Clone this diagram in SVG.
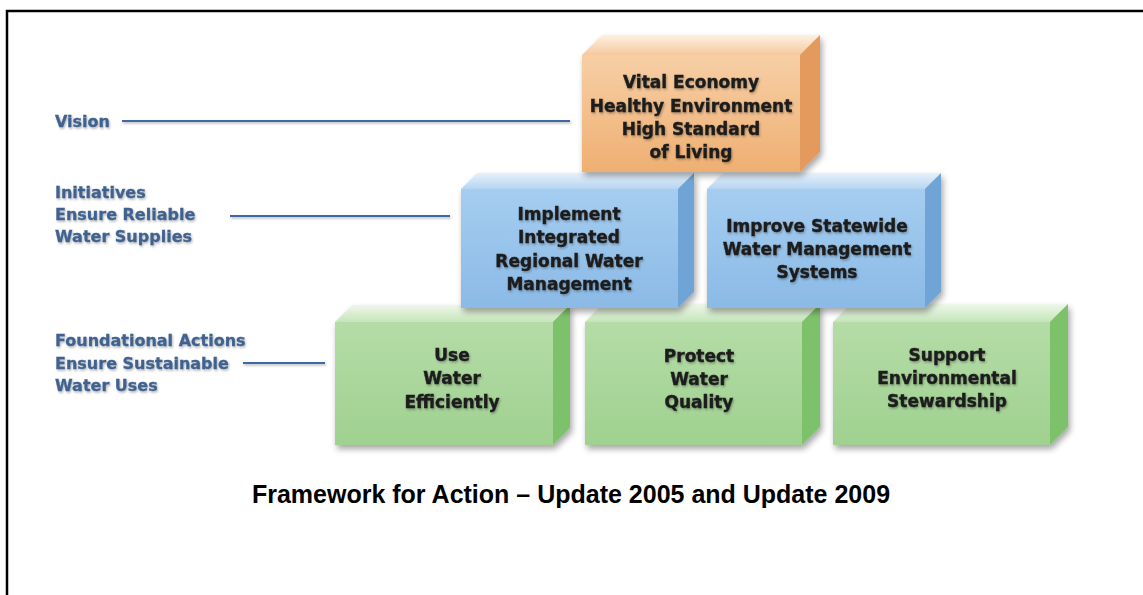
<svg xmlns="http://www.w3.org/2000/svg" width="1143" height="595" viewBox="0 0 1143 595">
<defs>
<linearGradient id="gOF" x1="0" y1="0" x2="0" y2="1"><stop offset="0" stop-color="#f7cfa6"/><stop offset="1" stop-color="#efaf72"/></linearGradient>
<linearGradient id="gOT" x1="0" y1="0" x2="0" y2="1"><stop offset="0" stop-color="#fdf0e2"/><stop offset="1" stop-color="#f6c99c"/></linearGradient>
<linearGradient id="gBF" x1="0" y1="0" x2="0" y2="1"><stop offset="0" stop-color="#a5cdf0"/><stop offset="1" stop-color="#8bbae6"/></linearGradient>
<linearGradient id="gBT" x1="0" y1="0" x2="0" y2="1"><stop offset="0" stop-color="#e6f1fb"/><stop offset="1" stop-color="#b6d5f1"/></linearGradient>
<linearGradient id="gGF" x1="0" y1="0" x2="0" y2="1"><stop offset="0" stop-color="#b5dca7"/><stop offset="1" stop-color="#9fd190"/></linearGradient>
<linearGradient id="gGT" x1="0" y1="0" x2="0" y2="1"><stop offset="0" stop-color="#eef7ea"/><stop offset="1" stop-color="#c5e5b9"/></linearGradient>
<filter id="sh" x="-10%" y="-10%" width="130%" height="140%"><feDropShadow dx="2" dy="4" stdDeviation="3" flood-color="#000" flood-opacity="0.35"/></filter>
<filter id="tsh" x="-10%" y="-30%" width="120%" height="170%"><feDropShadow dx="1" dy="1.5" stdDeviation="1" flood-color="#000" flood-opacity="0.3"/></filter>
</defs>
<style>
.bt{font-family:"DejaVu Sans",sans-serif;font-weight:bold;font-size:17px;fill:#1c1c1c;stroke:#1c1c1c;stroke-width:0.4;text-anchor:middle}
.lb{font-family:"DejaVu Sans",sans-serif;font-weight:bold;font-size:16px;fill:#41628f;stroke:#41628f;stroke-width:0.3}
.ln{stroke:#3e6ba6;stroke-width:2;fill:none}
.oS{fill:#e39a5b}.bS{fill:#6fa3d6}.gS{fill:#7dc16b}
.title{font-family:"Liberation Sans",Arial,sans-serif;font-weight:bold;font-size:25px;fill:#000;text-anchor:middle}
</style>
<rect width="1143" height="595" fill="#fff"/>
<path d="M7,600 V11 H1150" fill="none" stroke="#000" stroke-width="2.5"/>

<g id="connectors" filter="url(#tsh)">
<line class="ln" x1="122" y1="121" x2="570" y2="121"/>
<line class="ln" x1="230" y1="216" x2="450" y2="216"/>
<line class="ln" x1="243" y1="363" x2="325" y2="363"/>
</g>

<g id="labels" filter="url(#tsh)">
<text class="lb" x="55" y="127">Vision</text>
<text class="lb" x="55" y="198">Initiatives</text>
<text class="lb" x="55" y="220">Ensure Reliable</text>
<text class="lb" x="55" y="242">Water Supplies</text>
<text class="lb" x="55" y="346">Foundational Actions</text>
<text class="lb" x="55" y="369">Ensure Sustainable</text>
<text class="lb" x="55" y="391">Water Uses</text>
</g>

<g id="green-left">
<g filter="url(#sh)">
<polygon points="335,322 352,305 570,305 553,322" fill="url(#gGT)"/>
<polygon class="gS" points="553,322 570,305 570,428 553,445"/>
<rect x="335" y="322" width="218" height="123" fill="url(#gGF)"/>
</g>
<g filter="url(#tsh)"><text class="bt" x="452" y="361">Use</text><text class="bt" x="452" y="384">Water</text><text class="bt" x="452" y="408">Efficiently</text></g>
</g>

<g id="green-middle">
<g filter="url(#sh)">
<polygon points="585,322 603,304 820,304 802,322" fill="url(#gGT)"/>
<polygon class="gS" points="802,322 820,304 820,427 802,445"/>
<rect x="585" y="322" width="217" height="123" fill="url(#gGF)"/>
</g>
<g filter="url(#tsh)"><text class="bt" x="699" y="362">Protect</text><text class="bt" x="699" y="385">Water</text><text class="bt" x="699" y="408">Quality</text></g>
</g>

<g id="green-right">
<g filter="url(#sh)">
<polygon points="833,322 851,304 1068,304 1050,322" fill="url(#gGT)"/>
<polygon class="gS" points="1050,322 1068,304 1068,427 1050,445"/>
<rect x="833" y="322" width="217" height="123" fill="url(#gGF)"/>
</g>
<g filter="url(#tsh)"><text class="bt" x="947" y="361">Support</text><text class="bt" x="947" y="384">Environmental</text><text class="bt" x="947" y="407">Stewardship</text></g>
</g>

<g id="blue-left">
<g filter="url(#sh)">
<polygon points="461,189 477,173 694,173 678,189" fill="url(#gBT)"/>
<polygon class="bS" points="678,189 694,173 694,292 678,308"/>
<rect x="461" y="189" width="217" height="119" fill="url(#gBF)"/>
</g>
<g filter="url(#tsh)"><text class="bt" x="569" y="220">Implement</text><text class="bt" x="569" y="243">Integrated</text><text class="bt" x="569" y="267">Regional Water</text><text class="bt" x="569" y="290">Management</text></g>
</g>

<g id="blue-right">
<g filter="url(#sh)">
<polygon points="707,189 723,173 941,173 925,189" fill="url(#gBT)"/>
<polygon class="bS" points="925,189 941,173 941,292 925,308"/>
<rect x="707" y="189" width="218" height="119" fill="url(#gBF)"/>
</g>
<g filter="url(#tsh)"><text class="bt" x="817" y="232">Improve Statewide</text><text class="bt" x="817" y="255">Water Management</text><text class="bt" x="817" y="278">Systems</text></g>
</g>

<g id="vision">
<g filter="url(#sh)">
<polygon points="582,55 602,35 820,35 800,55" fill="url(#gOT)"/>
<polygon class="oS" points="800,55 820,35 820,152 800,172"/>
<rect x="582" y="55" width="218" height="117" fill="url(#gOF)"/>
</g>
<g filter="url(#tsh)"><text class="bt" x="691" y="88">Vital Economy</text><text class="bt" x="691" y="112">Healthy Environment</text><text class="bt" x="691" y="135">High Standard</text><text class="bt" x="691" y="158">of Living</text></g>
</g>

<text class="title" x="571" y="503">Framework for Action – Update 2005 and Update 2009</text>
</svg>
